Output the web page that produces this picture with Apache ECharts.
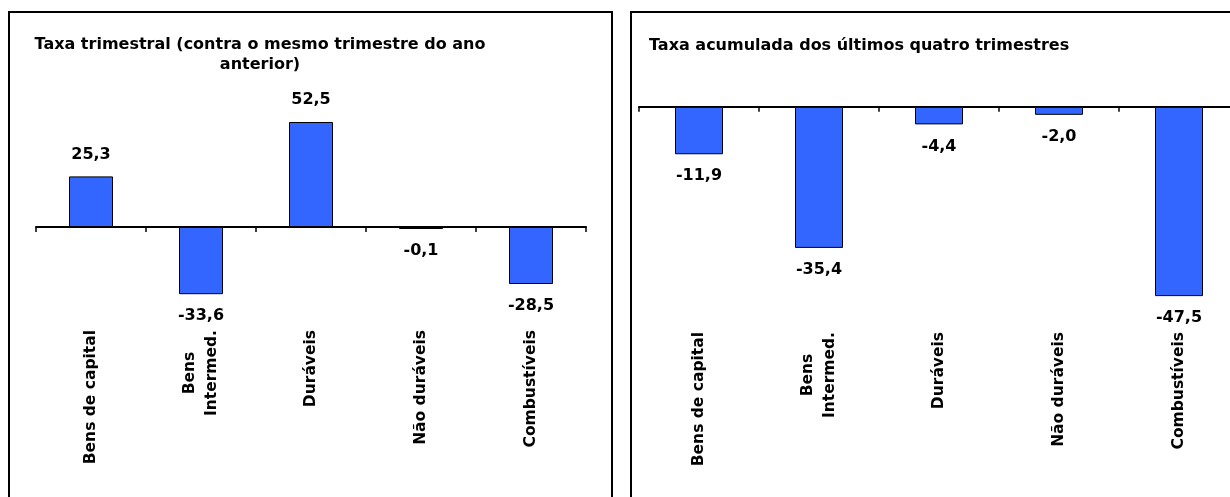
<!DOCTYPE html>
<html><head><meta charset="utf-8">
<script src="https://cdn.jsdelivr.net/npm/echarts@6/dist/echarts.min.js"></script>
<style>html,body{margin:0;padding:0;background:#fff}#c{width:1230px;height:497px}</style>
</head><body><div id="c"></div>
<script>
// ---- data ----
const categories = ['Bens de capital', 'Bens\nIntermed.', 'Duráveis', 'Não duráveis', 'Combustíveis'];
const quarterlyRate = [25.3, -33.6, 52.5, -0.1, -28.5];
const accumulatedRate = [-11.9, -35.4, -4.4, -2.0, -47.5];
const titleLeft = 'Taxa trimestral (contra o mesmo trimestre do ano\nanterior)';
const titleRight = 'Taxa acumulada dos últimos quatro trimestres';

// ---- styling ----
const FONT = '"DejaVu Sans", Verdana, sans-serif';
const BAR_COLOR = '#3366FF';

function fmt(v) { return v.toFixed(1).replace('.', ','); }
function items(arr) {
  return arr.map(v => ({ value: v, label: { position: v >= 0 ? 'top' : 'bottom' } }));
}
function xAxisCfg(gridIndex, margin) {
  return {
    type: 'category', gridIndex, data: categories, boundaryGap: true,
    axisLine: { onZero: true, lineStyle: { color: '#000', width: 2 } },
    axisTick: { show: true, inside: false, length: 5, lineStyle: { color: '#000', width: 1.5 } },
    splitLine: { show: false },
    axisLabel: {
      rotate: 90, margin, interval: 0, color: '#000',
      fontFamily: FONT, fontWeight: 'bold', fontSize: 15.5,
      formatter: v => v.split('\n').map(s => '{c|' + s + '}').join('\n'),
      rich: { c: { align: 'center', fontFamily: FONT, fontWeight: 'bold', fontSize: 15.5, lineHeight: 22, color: '#000' } }
    }
  };
}
function seriesCfg(idx, arr) {
  return {
    type: 'bar', xAxisIndex: idx, yAxisIndex: idx, data: items(arr), barWidth: '40%', barMinHeight: 2,
    itemStyle: { color: BAR_COLOR, borderColor: '#000', borderWidth: 1 },
    label: {
      show: true, distance: 14, color: '#000', fontFamily: FONT, fontWeight: 'bold', fontSize: 16,
      formatter: p => fmt(p.value)
    },
    z: 3
  };
}

const chart = echarts.init(document.getElementById('c'), null, { renderer: 'canvas' });
chart.setOption({
  animation: false,
  backgroundColor: '#fff',
  grid: [
    { left: 36, width: 550, top: 87, height: 240, containLabel: false, outerBoundsMode: 'none' },
    { left: 639, width: 600, top: 67, height: 259, containLabel: false, outerBoundsMode: 'none' }
  ],
  xAxis: [xAxisCfg(0, 3), xAxisCfg(1, 6)],
  yAxis: [
    { type: 'value', gridIndex: 0, min: -50, max: 70, show: false },
    { type: 'value', gridIndex: 1, min: -55, max: 10, show: false }
  ],
  series: [seriesCfg(0, quarterlyRate), seriesCfg(1, accumulatedRate)],
  graphic: [
    { type: 'rect', shape: { x: 9, y: 12, width: 603, height: 600 }, style: { fill: 'none', stroke: '#000', lineWidth: 2 }, silent: true },
    { type: 'rect', shape: { x: 631, y: 12, width: 700, height: 600 }, style: { fill: 'none', stroke: '#000', lineWidth: 2 }, silent: true },
    { type: 'text', x: 260, y: 35, style: { text: titleLeft, textAlign: 'center', textVerticalAlign: 'top', lineHeight: 20, font: 'bold 16px ' + FONT, fill: '#000' } },
    { type: 'text', x: 649, y: 36, style: { text: titleRight, textAlign: 'left', textVerticalAlign: 'top', lineHeight: 20, font: 'bold 16px ' + FONT, fill: '#000' } }
  ]
});
</script>
</body></html>
